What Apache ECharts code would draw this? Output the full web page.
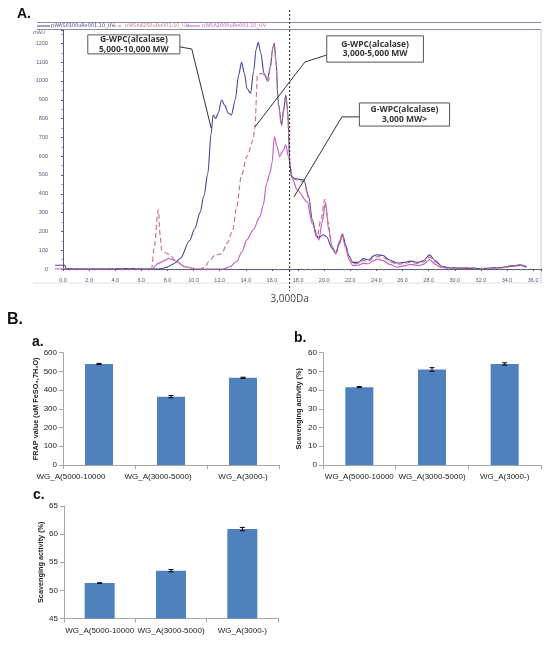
<!DOCTYPE html>
<html><head><meta charset="utf-8">
<script src="https://cdn.jsdelivr.net/npm/echarts@6/dist/echarts.min.js"></script>
<style>html,body{margin:0;padding:0;background:#fff}#c{width:548px;height:648px}</style>
</head><body><div id="c"></div>
<script>
// ---------- Panel A: SEC chromatogram (time in min, absorbance in mAU) ----------
const traceNames = ['pWAS0300uRe001.10_UV', 'pWSA4250uRe001.10_UV', 'pWSA2000uRe001.10_UV'];
const trace5000to10000 = [[-0.6,20],[0.15,20],[0.25,2],[1.5,0],[3,0],[5,2],[6.5,0],[7.2,0],[7.6,3],[8.0,10],[8.5,28],[9.0,57],[9.7,150],[10.1,215],[10.5,300],[10.8,390],[11.1,510],[11.35,720],[11.5,819],[11.7,800],[11.9,830],[12.15,899],[12.4,870],[12.65,830],[12.9,819],[13.2,900],[13.45,1030],[13.68,1099],[13.9,1040],[14.1,960],[14.37,934],[14.6,1050],[14.8,1170],[14.96,1206],[15.15,1150],[15.4,1040],[15.65,1005],[15.9,1080],[16.05,1170],[16.18,1200],[16.3,1120],[16.5,880],[16.74,766],[16.9,850],[17.07,925],[17.2,850],[17.38,560],[17.5,495],[17.7,482],[18.0,478],[18.45,473],[18.8,390],[19.1,260],[19.4,175],[19.6,168],[19.95,182],[20.2,170],[20.6,110],[20.9,85],[21.15,140],[21.4,186],[21.65,130],[21.9,70],[22.2,35],[22.6,35],[23.0,55],[23.4,48],[23.8,70],[24.0,76],[24.5,72],[25.0,48],[25.6,32],[26.2,35],[26.6,42],[27.2,35],[27.6,45],[28.07,75],[28.5,45],[29.0,15],[29.5,8],[30.5,5],[32,3],[33.5,8],[34.5,18],[35.0,22],[35.5,12]];
const trace3000to5000 = [[-0.6,0],[6.79,0],[7.0,120],[7.3,314],[7.45,180],[7.56,101],[7.9,85],[8.19,74],[8.7,40],[9.34,12],[9.9,2],[10.49,0],[10.87,10],[11.26,48],[11.64,74],[12.15,80],[12.6,140],[13.0,207],[13.3,330],[13.68,500],[14.1,600],[14.57,686],[14.7,757],[14.9,1032],[15.2,1040],[15.5,1030],[15.7,990],[15.9,1080],[16.05,1170],[16.18,1195],[16.3,1110],[16.5,870],[16.74,760],[16.9,840],[17.07,915],[17.2,840],[17.38,560],[17.5,490],[17.7,478],[18.0,472],[18.45,465],[18.8,380],[19.1,250],[19.45,170],[19.75,260],[20.05,370],[20.3,250],[20.6,120],[20.9,85],[21.15,140],[21.4,185],[21.65,125],[21.9,65],[22.2,28],[22.6,30],[23.0,45],[23.4,42],[23.8,62],[24.1,66],[24.5,62],[25.0,40],[25.6,25],[26.2,30],[26.6,36],[27.2,30],[27.6,38],[28.07,64],[28.5,38],[29.0,12],[29.5,6],[30.5,6],[31,8],[32,3],[33.5,6],[34.5,16],[35.0,20],[35.5,10]];
const traceBelow3000 = [[-0.6,0],[6.9,0],[7.1,20],[7.3,30],[7.7,42],[8.07,57],[8.4,50],[8.7,39],[9.34,12],[10.2,0],[12.3,0],[12.79,12],[13.3,39],[13.7,90],[14.07,154],[14.57,207],[15.08,278],[15.34,340],[15.6,456],[15.85,510],[16.0,560],[16.2,704],[16.4,650],[16.6,597],[16.85,630],[17.07,660],[17.25,600],[17.6,473],[17.94,420],[18.7,358],[19.1,240],[19.6,154],[19.85,250],[20.1,355],[20.35,210],[20.6,120],[20.9,80],[21.15,130],[21.4,178],[21.65,110],[21.9,50],[22.2,18],[22.6,20],[23.0,30],[23.4,28],[23.8,45],[24.1,52],[24.5,45],[25.0,25],[25.6,10],[26.2,18],[26.6,25],[27.2,18],[27.6,25],[28.07,50],[28.5,25],[29.0,8],[29.5,4],[30.5,4],[32,2],[33.5,6],[34.5,15],[35.0,19],[35.5,9]];
const cutoffTime = 17.36;
const cutoffLabel = '3,000Da';
const boxTexts = [
  ['G-WPC(alcalase)', '5,000-10,000 MW'],
  ['G-WPC(alcalase)', '3,000-5,000 MW'],
  ['G-WPC(alcalase)', '3,000 MW>']
];
// box corners [t, mAU] and connector polyline in data coordinates
const boxCorners = [[[1.91,1245],[8.96,1144]], [[20.2,1240],[27.6,1100]], [[22.7,883],[29.6,760]]];
const connectors = [
  [[8.96,1181],[9.87,1170],[11.35,750]],
  [[20.2,1138],[18.53,1101],[14.7,755]],
  [[22.7,809],[21.36,809],[17.69,383]]
];

// ---------- Panel B: bar charts ----------
const categories = ['WG_A(5000-10000', 'WG_A(3000-5000)', 'WG_A(3000-)'];
const frapValues = [540, 365, 466];
const frapErrors = [3, 6, 3];
const scavBValues = [41.6, 51.0, 54.0];
const scavBErrors = [0.3, 1.0, 0.6];
const scavCValues = [51.3, 53.5, 60.9];
const scavCErrors = [0.05, 0.2, 0.3];

const barColor = '#4F81BD';
const chromColors = ['#45459a', '#c47a8c', '#c760c7'];
const labelShiftA = [28, 13, 0];

const chart = echarts.init(document.getElementById('c'));

function errorItem(params, api) {
  const x = api.value(0), v = api.value(1), e = api.value(2);
  const hi = api.coord([x, v + e]), lo = api.coord([x, v - e]);
  const hw = 2.5, st = {stroke: '#000', lineWidth: 1};
  return {type: 'group', children: [
    {type: 'line', shape: {x1: hi[0], y1: hi[1], x2: lo[0], y2: lo[1]}, style: st},
    {type: 'line', shape: {x1: hi[0]-hw, y1: hi[1], x2: hi[0]+hw, y2: hi[1]}, style: st},
    {type: 'line', shape: {x1: lo[0]-hw, y1: lo[1], x2: lo[0]+hw, y2: lo[1]}, style: st}
  ]};
}

const barFont = 'Liberation Sans';
function catAxis(gridIndex, shifts) {
  const base = {fontSize: 8, color: '#222', fontFamily: barFont};
  return {
    type: 'category', gridIndex, data: categories,
    axisLine: {lineStyle: {color: '#a6a6a6', width: 1}},
    axisTick: {show: true, length: 4, lineStyle: {color: '#a6a6a6'}},
    axisLabel: Object.assign({margin: 8, interval: 0, hideOverlap: false}, base, shifts ? {
      formatter: (v, i) => '{s' + i + '|' + v + '}',
      rich: {
        s0: Object.assign({padding: [0, shifts[0]*2, 0, 0]}, base),
        s1: Object.assign({padding: [0, shifts[1]*2, 0, 0]}, base),
        s2: Object.assign({padding: [0, shifts[2]*2, 0, 0]}, base)
      }
    } : {})
  };
}
function valAxis(gridIndex, min, max, interval, name, nameGap) {
  return {
    type: 'value', gridIndex, min, max, interval,
    name, nameLocation: 'middle', nameGap, nameRotate: 90,
    nameTextStyle: {fontSize: 7.3, fontWeight: 'bold', color: '#222', fontFamily: barFont},
    axisLine: {show: true, lineStyle: {color: '#a6a6a6', width: 1}},
    axisTick: {show: true, length: 4, lineStyle: {color: '#a6a6a6'}},
    splitLine: {show: false},
    axisLabel: {fontSize: 8, color: '#222', fontFamily: barFont, margin: 6}
  };
}

const option = {
  animation: false,
  backgroundColor: '#fff',
  grid: [
    {left: 55, right: 7, top: 30, bottom: 379},   // data grid for chromatogram
    {left: 63, right: 7, top: 30, bottom: 379},   // axis grid for chromatogram
    {left: 63, right: 269, top: 352.7, bottom: 183},
    {left: 323, right: 7, top: 352.7, bottom: 183},
    {left: 64, right: 270, top: 506, bottom: 29.5}
  ],
  xAxis: [
    {type: 'value', gridIndex: 0, min: -0.6, max: 36.6, show: false},
    {type: 'value', gridIndex: 1, min: 0, max: 36.6, interval: 2, offset: 5,
      axisLine: {lineStyle: {color: '#5a5a7a', width: 1}},
      axisTick: {length: 2, lineStyle: {color: '#5a5a7a'}},
      minorTick: {show: true, splitNumber: 4, length: 1.5, lineStyle: {color: '#8a8aa0'}},
      splitLine: {show: false},
      axisLabel: {fontSize: 5.5, color: '#555577', margin: 3, showMaxLabel: false,
        formatter: v => v.toFixed(1)}},
    catAxis(2, labelShiftA),
    catAxis(3, null),
    catAxis(4, null)
  ],
  yAxis: [
    {type: 'value', gridIndex: 0, min: 0, max: 1271, show: false},
    {type: 'value', gridIndex: 1, min: 0, max: 1271, interval: 100, offset: 8,
      axisLine: {show: true, lineStyle: {color: '#5a5a7a', width: 1}},
      axisTick: {show: true, length: 2, lineStyle: {color: '#5a5a7a'}},
      minorTick: {show: true, splitNumber: 2, length: 1.5, lineStyle: {color: '#8a8aa0'}},
      splitLine: {show: false},
      axisLabel: {fontSize: 5.5, color: '#555577', margin: 7, showMaxLabel: false,
        formatter: v => String(v)}},
    valAxis(2, 0, 600, 100, 'FRAP value (uM FeSO\u2084,7H\u2082O)', 20),
    valAxis(3, 0, 60, 10, 'Scavenging activity (%)', 21),
    valAxis(4, 45, 65, 5, 'Scavenging activity (%)', 20)
  ],
  series: [
    {name: traceNames[0], type: 'line', xAxisIndex: 0, yAxisIndex: 0, data: trace5000to10000,
      showSymbol: false, smooth: 0.3, smoothMonotone: 'x', lineStyle: {color: chromColors[0], width: 1.1}, z: 3},
    {name: traceNames[1], type: 'line', xAxisIndex: 0, yAxisIndex: 0, data: trace3000to5000,
      showSymbol: false, smooth: 0.3, smoothMonotone: 'x', lineStyle: {color: chromColors[1], width: 1.2, type: [5, 3]}, z: 4},
    {name: traceNames[2], type: 'line', xAxisIndex: 0, yAxisIndex: 0, data: traceBelow3000,
      showSymbol: false, smooth: 0.3, smoothMonotone: 'x', lineStyle: {color: chromColors[2], width: 1.2}, z: 2},
    {type: 'bar', xAxisIndex: 2, yAxisIndex: 2, data: frapValues, barWidth: 28, itemStyle: {color: barColor}},
    {type: 'custom', xAxisIndex: 2, yAxisIndex: 2, renderItem: errorItem,
      data: frapValues.map((v, i) => [i, v, frapErrors[i]]), z: 5},
    {type: 'bar', xAxisIndex: 3, yAxisIndex: 3, data: scavBValues, barWidth: 28, itemStyle: {color: barColor}},
    {type: 'custom', xAxisIndex: 3, yAxisIndex: 3, renderItem: errorItem,
      data: scavBValues.map((v, i) => [i, v, scavBErrors[i]]), z: 5},
    {type: 'bar', xAxisIndex: 4, yAxisIndex: 4, data: scavCValues, barWidth: 30, itemStyle: {color: barColor}},
    {type: 'custom', xAxisIndex: 4, yAxisIndex: 4, renderItem: errorItem,
      data: scavCValues.map((v, i) => [i, v, scavCErrors[i]]), z: 5}
  ]
};
chart.setOption(option);

// ---------- overlay texts, frame, legend, cutoff and annotations ----------
const px = p => chart.convertToPixel({xAxisIndex: 0, yAxisIndex: 0}, p);
const g = [];
const bold = (text, x, y, size) => g.push({type: 'text', x, y, style: {text, font: 'bold ' + size + 'px "Liberation Sans", Arial', fill: '#111', textVerticalAlign: 'middle'}});
bold('A.', 17, 14, 14);
bold('B.', 7, 320, 16);
bold('a.', 32, 342, 14);
bold('b.', 294, 338, 14);
bold('c.', 33, 495, 14);

// chromatogram frame
g.push({type: 'line', shape: {x1: 37, y1: 22.5, x2: 541, y2: 22.5}, style: {stroke: '#8a8aa0', lineWidth: 1}});
g.push({type: 'line', shape: {x1: 37, y1: 29.5, x2: 541, y2: 29.5}, style: {stroke: '#8a8aa0', lineWidth: 1}});
g.push({type: 'line', shape: {x1: 541, y1: 29.5, x2: 541, y2: 283}, style: {stroke: '#c8c8d4', lineWidth: 1}});
g.push({type: 'line', shape: {x1: 33, y1: 283, x2: 541, y2: 283}, style: {stroke: '#e0e0e8', lineWidth: 1}});
g.push({type: 'text', x: 33, y: 33, style: {text: 'mAU', font: '5px "DejaVu Sans"', fill: '#555577', textVerticalAlign: 'middle'}});

// legend
const legendX = [[37, 50, 51], [113, 122, 125], [186, 200, 202]];
traceNames.forEach((n, i) => {
  const [a, b, t] = legendX[i];
  g.push({type: 'line', shape: {x1: a, y1: 26, x2: b, y2: 26},
    style: {stroke: chromColors[i], lineWidth: 1, lineDash: i === 1 ? [3, 2] : null}});
  g.push({type: 'text', x: t, y: 26, style: {text: n, font: '5px "DejaVu Sans"', fill: chromColors[i], textVerticalAlign: 'middle'}});
});

// cutoff dashed line
const cx = px([cutoffTime, 0])[0];
g.push({type: 'line', shape: {x1: cx, y1: 10, x2: cx, y2: 291}, style: {stroke: '#222', lineWidth: 1, lineDash: [2, 2]}, z: 10});
g.push({type: 'text', x: cx, y: 299, style: {text: cutoffLabel, font: '10px "Open Sans"', fill: '#444', textAlign: 'center', textVerticalAlign: 'middle'}});

// annotation connectors and boxes
connectors.forEach(c => {
  g.push({type: 'polyline', shape: {points: c.map(px)}, style: {stroke: '#333', lineWidth: 1, fill: null}, z: 11});
});
boxCorners.forEach((b, i) => {
  const p0 = px(b[0]), p1 = px(b[1]);
  const w = p1[0] - p0[0], h = p1[1] - p0[1];
  g.push({type: 'rect', shape: {x: p0[0], y: p0[1], width: w, height: h},
    style: {fill: '#fff', stroke: '#555', lineWidth: 1}, z: 12});
  g.push({type: 'text', x: p0[0] + w / 2, y: p0[1] + h / 2,
    style: {text: boxTexts[i].join('\n'), font: 'bold 8.5px "Open Sans"', fill: '#333', textAlign: 'center', textVerticalAlign: 'middle', lineHeight: 9.5}, z: 13});
});

chart.setOption({graphic: g});
</script></body></html>
